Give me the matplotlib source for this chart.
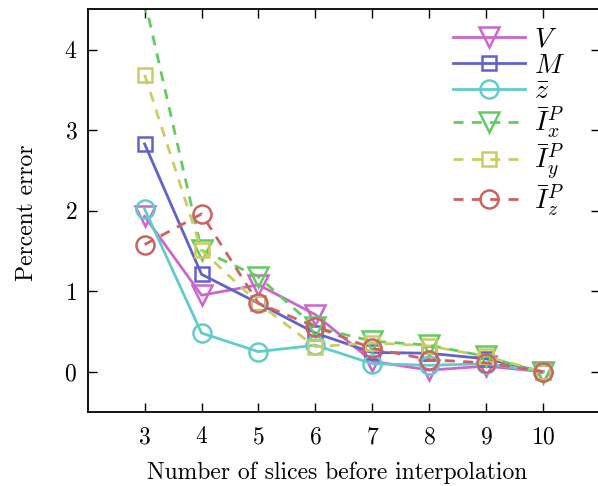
import matplotlib
matplotlib.use("Agg")
import matplotlib.pyplot as plt

plt.rcParams.update({
    "font.family": "serif",
    "font.serif": ["cmr10", "DejaVu Serif"],
    "mathtext.fontset": "cm",
    "axes.unicode_minus": False,
    "axes.formatter.use_mathtext": True,
    "font.size": 17,
})

slices = [3, 4, 5, 6, 7, 8, 9, 10]

err_V = [1.93, 0.95, 1.08, 0.71, 0.13, 0.02, 0.07, 0.0]
err_M = [2.83, 1.21, 0.85, 0.48, 0.24, 0.23, 0.16, 0.0]
err_zbar = [2.02, 0.48, 0.25, 0.33, 0.10, 0.08, 0.10, 0.0]
err_Ix = [4.62, 1.51, 1.18, 0.55, 0.38, 0.33, 0.19, -0.02]
err_Iy = [3.69, 1.51, 0.85, 0.31, 0.36, 0.32, 0.19, 0.0]
err_Iz = [1.58, 1.96, 0.85, 0.56, 0.29, 0.15, 0.11, 0.0]

MAGENTA = "#CC66CC"
BLUE = "#6262CC"
CYAN = "#62CCCC"
GREEN = "#62CC62"
YELLOW = "#CCCC62"
RED = "#CC6262"

DASH = (0, (3.6, 3.0))

series = [
    (err_V, r"$V$", MAGENTA, "v", 15, "-"),
    (err_M, r"$M$", BLUE, "s", 10, "-"),
    (err_zbar, r"$\bar{z}$", CYAN, "o", 13, "-"),
    (err_Ix, r"$\bar{I}_x^P$", GREEN, "v", 15, DASH),
    (err_Iy, r"$\bar{I}_y^P$", YELLOW, "s", 10, DASH),
    (err_Iz, r"$\bar{I}_z^P$", RED, "o", 13, DASH),
]

fig = plt.figure(figsize=(5.98, 4.86), dpi=100)
ax = fig.add_axes([87.7 / 598, 74 / 486, (600 - 87.7) / 598, 402.5 / 486])

for values, label, color, marker, size, ls in series:
    ax.plot(slices, values, color=color, linestyle=ls, linewidth=2.0,
            marker=marker, markersize=size, markerfacecolor="none",
            markeredgecolor=color, markeredgewidth=1.8, label=label)

ax.set_xlim(2, 11)
ax.set_ylim(-0.5, 4.5)
ax.set_xticks(slices)
ax.set_yticks([0, 1, 2, 3, 4])

ax.tick_params(direction="in", length=6.5, width=1.0, top=True, right=True)
ax.tick_params(axis="x", pad=10)
ax.tick_params(axis="y", pad=7.5)
for sp in ax.spines.values():
    sp.set_linewidth(1.3)

ax.set_xlabel("Number of slices before interpolation")
ax.set_ylabel("Percent error")
ax.xaxis.set_label_coords(0.487, -0.123)
ax.yaxis.set_label_coords(-0.097, 0.494)

leg = ax.legend(loc="upper left", bbox_to_anchor=(453 / 598, (486 - 26) / 486),
                bbox_transform=fig.transFigure, frameon=False,
                borderpad=0, borderaxespad=0, handlelength=2.6,
                handletextpad=0.3, labelspacing=0.0, fontsize=20)

fig.savefig("out.png", dpi=100)
